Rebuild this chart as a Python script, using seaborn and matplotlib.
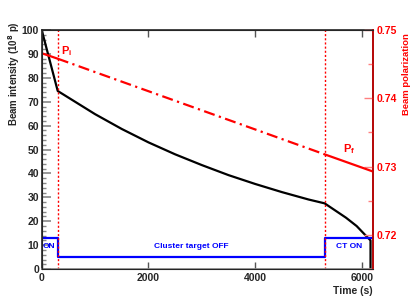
import pandas as pd
import seaborn as sns
import matplotlib.pyplot as plt
from matplotlib.ticker import MultipleLocator

# beam intensity (10^8 p)
time_s = [0, 300, 1000, 1500, 2000, 2500, 3000, 3500, 4000, 4500, 5000, 5300,
          5500, 5700, 5900, 6050, 6160, 6160]
intensity = [100, 74.5, 64.8, 58.6, 53.0, 48.0, 43.5, 39.3, 35.6, 32.2, 29.1, 27.5,
             24.5, 21.5, 18.0, 14.5, 12.0, 0]

# polarization, three pieces
pol_t_start = [0, 300]
pol_start = [0.7466, 0.7458]
pol_t_mid = [300, 5300]
pol_mid = [0.7458, 0.7318]
pol_t_end = [5300, 6200]
pol_end = [0.7318, 0.7293]

# cluster target on/off marker
ct_t = [0, 300, 5300, 6200]
ct_level = [13, 5, 13, 13]

switch_times = [300, 5300]

sns.set_style("ticks")
plt.rcParams['font.family'] = ['Liberation Sans', 'DejaVu Sans']
plt.rcParams['font.weight'] = 'bold'
plt.rcParams['mathtext.default'] = 'bf'

fig = plt.figure(figsize=(4.15, 3.0), dpi=100)
ax = fig.add_axes([0.1005, 0.103, 0.7975, 0.797])

df_int = pd.DataFrame({'t': time_s, 'I': intensity})
sns.lineplot(data=df_int, x='t', y='I', ax=ax, color='black', lw=1.6,
             estimator=None, sort=False)

df_ct = pd.DataFrame({'t': ct_t, 'lvl': ct_level})
sns.lineplot(data=df_ct, x='t', y='lvl', ax=ax, color='#0000ff', lw=1.6,
             estimator=None, sort=False, drawstyle='steps-post')

for t in switch_times:
    ax.axvline(t, color='red', ls=(0, (1.5, 1.5)), lw=1.0)

ax.set_xlim(0, 6200)
ax.set_ylim(0, 100)
ax.xaxis.set_major_locator(MultipleLocator(2000))
ax.yaxis.set_major_locator(MultipleLocator(10))
ax.yaxis.set_minor_locator(MultipleLocator(2))
ax.tick_params(axis='y', which='major', direction='in', length=6.5, width=1.2,
               color='#888888', labelsize=7.5, pad=2)
ax.tick_params(axis='y', which='minor', direction='in', length=3.2, width=1.0,
               color='#888888')
ax.tick_params(axis='x', which='major', direction='in', length=5, width=1.0,
               color='#555555', labelsize=7.5, top=True, pad=3)
for s in ax.spines.values():
    s.set_linewidth(1.2)
ax.spines['bottom'].set_color('#888888')
ax.set_xlabel('Time (s)', fontsize=7.5, fontweight='bold', loc='right')
ax.set_ylabel('Beam intensity (10$^{8}$ p)', fontsize=7.0, fontweight='bold',
              loc='top')
ax.xaxis.set_label_coords(1.0, -0.07)
ax.yaxis.set_label_coords(-0.06, 1.035)

ax.text(135, 9.5, 'ON', color='#0000ff', fontsize=6, fontweight='bold',
        ha='center', va='center')
ax.text(2800, 9.5, 'Cluster target OFF', color='#0000ff', fontsize=6,
        fontweight='bold', ha='center', va='center')
ax.text(5750, 9.5, 'CT ON', color='#0000ff', fontsize=6, fontweight='bold',
        ha='center', va='center')

ax2 = ax.twinx()
for tt, pp, style in [(pol_t_start, pol_start, '-'),
                      (pol_t_mid, pol_mid, (0, (5, 2, 1, 2))),
                      (pol_t_end, pol_end, '-')]:
    sns.lineplot(x=tt, y=pp, ax=ax2, color='red', lw=1.6, ls=style,
                 estimator=None, sort=False)
ax2.set_ylim(0.715, 0.75)
ax2.yaxis.set_major_locator(MultipleLocator(0.01))
ax2.yaxis.set_minor_locator(MultipleLocator(0.005))
ax2.tick_params(axis='y', which='major', direction='in', length=6.5, width=1.0,
                color='#ff8080', labelcolor='red', labelsize=7.5, pad=3)
ax2.tick_params(axis='y', which='minor', direction='in', length=3.5, width=1.0,
                color='#ff8080')
ax2.spines['right'].set_color('#cc0000')
ax2.spines['right'].set_linewidth(1.2)
ax2.set_ylabel('Beam polarization', color='red', fontsize=6.8,
               fontweight='bold', loc='top')
ax2.yaxis.set_label_coords(1.09, 0.985)

ax2.text(360, 0.7464, 'P$_\\mathregular{i}$', color='red', fontsize=8,
         fontweight='bold', ha='left', va='baseline')
ax2.text(5640, 0.7321, 'P$_\\mathregular{f}$', color='red', fontsize=8,
         fontweight='bold', ha='left', va='baseline')

fig.savefig('out.png', dpi=100)
